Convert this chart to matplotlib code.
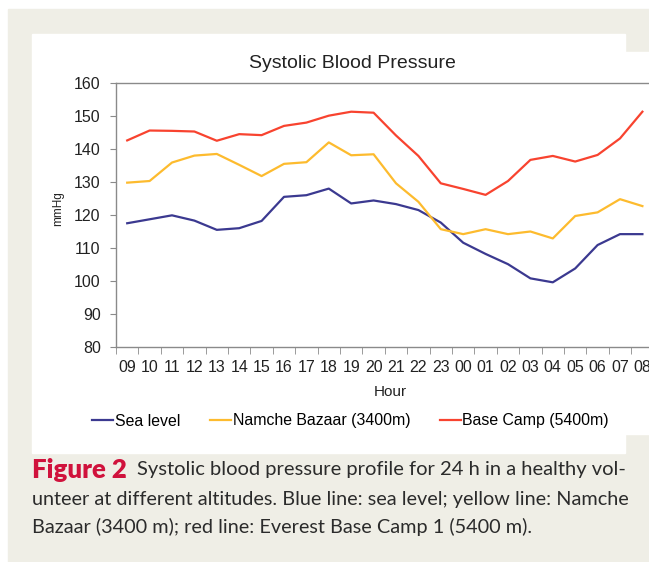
import numpy as np
import matplotlib.pyplot as plt
from matplotlib.patches import Rectangle
from matplotlib.lines import Line2D

# hours of the 24 h recording
hours = ["09", "10", "11", "12", "13", "14", "15", "16", "17", "18", "19", "20",
         "21", "22", "23", "00", "01", "02", "03", "04", "05", "06", "07", "08"]

# systolic pressure, mmHg
sea_level = [117.5, 118.7, 119.9, 118.3, 115.5, 116.0, 118.2, 125.5, 126.0, 128.0, 123.5, 124.4,
             123.3, 121.5, 117.7, 111.6, 108.2, 105.1, 100.8, 99.6, 103.8, 110.9, 114.2, 114.2]
namche = [129.8, 130.3, 135.9, 138.0, 138.5, 135.2, 131.8, 135.5, 136.0, 142.0, 138.1, 138.4,
          129.6, 124.0, 115.7, 114.2, 115.7, 114.2, 115.0, 112.9, 119.7, 120.8, 124.8, 122.7]
base_camp = [142.6, 145.6, 145.5, 145.3, 142.5, 144.5, 144.2, 147.0, 148.0, 150.1, 151.3, 151.0,
             144.1, 137.9, 129.6, 127.9, 126.1, 130.3, 136.7, 137.9, 136.2, 138.2, 143.2, 151.3]

series_names = ["Sea level", "Namche Bazaar (3400m)", "Base Camp (5400m)"]
colors = ["#3b3990", "#fdbb2e", "#f8432f"]

W, H = 649, 562
beige = "#efeee6"


def fx(px):
    return px / W


def fy(py):
    return 1 - py / H


fig = plt.figure(figsize=(W / 100, H / 100), dpi=100)
fig.patch.set_facecolor("white")

# page background and the white chart panel
fig.add_artist(Rectangle((fx(7.5), 0), 1, fy(9), transform=fig.transFigure, color=beige, zorder=0))
fig.add_artist(Rectangle((fx(32), fy(453)), fx(625 - 32), (453 - 34) / H,
                         transform=fig.transFigure, color="white", zorder=0))
fig.add_artist(Rectangle((fx(625), fy(434)), fx(W - 625), (434 - 52) / H,
                         transform=fig.transFigure, color="white", zorder=0))

plt.rcParams["font.family"] = ["Liberation Sans", "DejaVu Sans"]

# axes run a little past the right edge, like the cropped original
ax = fig.add_axes([fx(116), fy(347), 537.6 / W, 264 / H])
ax.set_facecolor("white")
for vals, name, c in zip([sea_level, namche, base_camp], series_names, colors):
    ax.plot(hours, vals, color=c, lw=1.6, label=name, solid_joinstyle="round")

ax.set_xlim(-0.5, len(hours) - 0.5)
ax.set_ylim(80, 160)
ax.set_yticks(np.arange(80, 161, 10))
ax.set_xticks(np.arange(-0.5, len(hours)), minor=True)
ax.tick_params(axis="x", which="major", length=0, pad=9, labelsize=11.5, labelcolor="#222222")
ax.tick_params(axis="x", which="minor", length=5, color="#8a8a8a")
ax.tick_params(axis="y", length=4, color="#8a8a8a", labelsize=11.5, labelcolor="#222222", pad=7)
for s in ax.spines.values():
    s.set_color("#8a8a8a")
    s.set_linewidth(1.0)

fig.text(fx(352), fy(63), "Systolic Blood Pressure", ha="center", va="center", fontsize=14, color="#222222")
fig.text(fx(58), fy(209), "mmHg", ha="center", va="center", rotation=90, fontsize=8.5, color="#222222")
fig.text(fx(390), fy(392), "Hour", ha="center", va="center", fontsize=11, color="#222222")

handles = [Line2D([], [], color=c, lw=1.6) for c in colors]
fig.legend(handles, series_names, loc="center left", bbox_to_anchor=(fx(92), fy(421)), ncol=3,
           frameon=False, fontsize=11.4, handlelength=1.35, handletextpad=0.1, columnspacing=1.85,
           borderpad=0, borderaxespad=0)

# caption
cap_font = ["Lato", "DejaVu Sans"]
cap_color = "#2b2b2b"
fig.text(fx(32), fy(470), "Figure 2", ha="left", va="center", fontsize=18.5, fontweight="heavy",
         color="#d0123c", family=cap_font)
fig.text(fx(137), fy(470), "Systolic blood pressure profile for 24 h in a healthy vol-",
         ha="left", va="center", fontsize=14.5, color=cap_color, family=cap_font)
fig.text(fx(32), fy(499), "unteer at different altitudes. Blue line: sea level; yellow line: Namche",
         ha="left", va="center", fontsize=14.3, color=cap_color, family=cap_font)
fig.text(fx(32), fy(527), "Bazaar (3400 m); red line: Everest Base Camp 1 (5400 m).",
         ha="left", va="center", fontsize=14.3, color=cap_color, family=cap_font)

fig.savefig("out.png", dpi=100)
